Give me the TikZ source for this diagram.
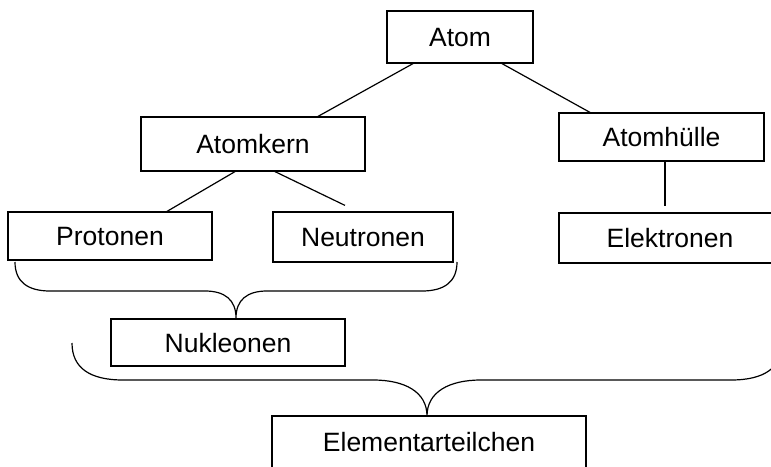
\documentclass[tikz,border=0pt]{standalone}
\usepackage{fontspec}
\setmainfont{Liberation Sans}
\begin{document}
\begin{tikzpicture}[x=1pt,y=-1pt,
  box/.style={draw,line width=1.2pt,inner sep=0pt,text height=19pt,text depth=0pt,
    font=\fontsize{26.5}{30}\selectfont},
  link/.style={line width=1.2pt},
  brace/.style={line width=1.2pt}]
\useasboundingbox (0,0) rectangle (771,466);
\clip (0,0) rectangle (771,466);
\node[box,minimum width=146pt,minimum height=52pt] (atom) at (460,37) {Atom};
\node[box,minimum width=224pt,minimum height=54pt] (kern) at (253,144) {Atomkern};
\node[box,minimum width=205pt,minimum height=48pt] (huelle) at (661.5,137) {Atomhülle};
\node[box,minimum width=204pt,minimum height=48pt] (prot) at (110,236) {Protonen};
\node[box,minimum width=180pt,minimum height=50pt] (neut) at (363,237) {Neutronen};
\node[box,minimum width=222pt,minimum height=50pt] (elek) at (670,238) {Elektronen};
\node[box,minimum width=234pt,minimum height=47pt] (nukl) at (228,342.5) {Nukleonen};
\node[box,minimum width=314pt,minimum height=52pt] (elem) at (429,442) {Elementarteilchen};
\draw[link] ([xshift=-47pt]atom.south) -- ([xshift=65pt]kern.north);
\draw[link] ([xshift=42pt]atom.south) -- ([xshift=-71.5pt]huelle.north);
\draw[link] ([xshift=-18pt]kern.south) -- ([xshift=57pt]prot.north);
\draw[link] ([xshift=22pt]kern.south) -- ([xshift=-18pt,yshift=6pt]neut.north);
\draw[link] ([xshift=3.5pt]huelle.south) -- ([xshift=-5pt,yshift=6pt]elek.north);
\draw[brace] (15,262) .. controls (15,282) and (28,291) .. (50,291) -- (205,291)
  .. controls (225,291) and (236,300) .. (236,318)
  .. controls (236,300) and (247,291) .. (267,291) -- (422,291)
  .. controls (444,291) and (457,282) .. (457,262);
\draw[brace] (72,343) .. controls (72,368) and (90,380) .. (123,380) -- (373,380)
  .. controls (405,380) and (427,392) .. (427,416)
  .. controls (427,392) and (449,380) .. (481,380) -- (731,380)
  .. controls (764,380) and (782,368) .. (782,343);
\end{tikzpicture}
\end{document}
